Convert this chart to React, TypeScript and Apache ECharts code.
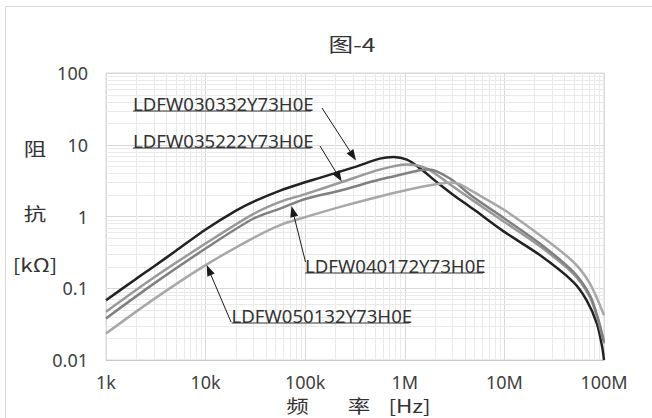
import { useEffect, useRef } from "react";
import * as echarts from "echarts";

// Impedance |Z| [kΩ] versus frequency [Hz] for four parts
const freq030332 = [1e3, 2e3, 3e3, 5e3, 1e4, 2e4, 3e4, 5.6e4, 1e5, 1.4e5, 3.3e5, 5.6e5, 7.7e5, 1.05e6, 1.42e6, 2.1e6, 3e6, 4.9e6, 1e7, 2.27e7, 4.9e7, 6.7e7, 8.5e7, 9.6e7, 1e8];
const imp030332 = [0.068, 0.135, 0.2, 0.33, 0.66, 1.2, 1.6, 2.3, 3.0, 3.45, 5.0, 6.4, 6.75, 6.2, 4.7, 3.0, 2.05, 1.26, 0.61, 0.29, 0.123, 0.068, 0.032, 0.015, 0.01];

const freq035222 = [1e3, 3e3, 1e4, 3e4, 5.6e4, 1e5, 2.3e5, 5.6e5, 1.05e6, 1.66e6, 2.63e6, 4.9e6, 1e7, 2.27e7, 4.9e7, 7.2e7, 8.7e7, 1e8];
const imp035222 = [0.047, 0.14, 0.42, 1.08, 1.6, 2.05, 3.0, 4.5, 5.3, 4.66, 3.03, 1.65, 0.84, 0.385, 0.16, 0.076, 0.036, 0.017];

const freq040172 = [1e3, 3e3, 1e4, 3e4, 5.6e4, 1e5, 2.3e5, 5.6e5, 1e6, 1.42e6, 1.75e6, 2.84e6, 4.9e6, 1e7, 2.27e7, 4.9e7, 7.2e7, 8.7e7, 1e8];
const imp040172 = [0.038, 0.115, 0.358, 0.93, 1.29, 1.75, 2.32, 3.27, 3.95, 4.41, 4.52, 3.38, 1.85, 0.94, 0.42, 0.17, 0.08, 0.038, 0.018];

const freq050132 = [1e3, 3e3, 1e4, 3e4, 5.6e4, 1e5, 2.6e5, 6e5, 1.22e6, 2e6, 2.9e6, 3.6e6, 4.5e6, 1e7, 2.27e7, 4.9e7, 7.2e7, 1e8];
const imp050132 = [0.0234, 0.07, 0.21, 0.5, 0.76, 0.98, 1.44, 1.95, 2.46, 2.8, 2.97, 2.8, 2.35, 1.23, 0.55, 0.234, 0.117, 0.042];

const partNames = ["LDFW030332Y73H0E", "LDFW035222Y73H0E", "LDFW040172Y73H0E", "LDFW050132Y73H0E"];

const xTickValues = [1e3, 1e4, 1e5, 1e6, 1e7, 1e8];
const xTickLabels = ["1k", "10k", "100k", "1M", "10M", "100M"];
const yTickValues = [0.01, 0.1, 1, 10, 100];
const yTickLabels = ["0.01", "0.1", "1", "10", "100"];

const LATIN = "'Noto Sans', sans-serif";
const CJK = "'Noto Sans CJK SC', 'Noto Sans CJK JP', sans-serif";

const zip = (xs: number[], ys: number[]) => xs.map((x, i) => [x, ys[i]]);

const labelFor = (ticks: number[], names: string[]) => (v: number) => {
  const i = ticks.findIndex((t) => Math.abs(Math.log10(t) - Math.log10(v)) < 1e-6);
  return i >= 0 ? names[i] : "";
};

function arrow(x1: number, y1: number, x2: number, y2: number) {
  const dx = x2 - x1;
  const dy = y2 - y1;
  const len = Math.hypot(dx, dy);
  const ux = dx / len;
  const uy = dy / len;
  const headLen = 11;
  const headHalf = 4;
  const bx = x2 - ux * headLen;
  const by = y2 - uy * headLen;
  return [
    { type: "line", z: 20, silent: true, shape: { x1, y1, x2: bx, y2: by }, style: { stroke: "#1a1a1a", lineWidth: 1 } },
    {
      type: "polygon",
      z: 20,
      silent: true,
      shape: { points: [[x2, y2], [bx - uy * headHalf, by + ux * headHalf], [bx + uy * headHalf, by - ux * headHalf]] },
      style: { fill: "#1a1a1a" },
    },
  ];
}

// callout text (left x, middle y, underline width), arrow start and arrow tip
const callouts = [
  { text: partNames[0], x: 133, y: 103.5, w: 178, ax: 322, ay: 108, tx: 356, ty: 160.5 },
  { text: partNames[1], x: 133, y: 140.5, w: 178, ax: 320, ay: 146, tx: 341.7, ty: 181.5 },
  { text: partNames[2], x: 305, y: 265.5, w: 178, ax: 305.5, ay: 262, tx: 291.5, ty: 206 },
  { text: partNames[3], x: 231.5, y: 315.5, w: 178, ax: 231, ay: 322, tx: 206.7, ty: 265 },
];

export default function App() {
  const ref = useRef<HTMLDivElement>(null);

  useEffect(() => {
    if (!ref.current) return;
    const chart = echarts.init(ref.current, undefined, { renderer: "svg" });

    const seriesDefs = [
      { name: partNames[0], data: zip(freq030332, imp030332), color: "#222222" },
      { name: partNames[1], data: zip(freq035222, imp035222), color: "#999999" },
      { name: partNames[2], data: zip(freq040172, imp040172), color: "#808080" },
      { name: partNames[3], data: zip(freq050132, imp050132), color: "#a8a8a8" },
    ];

    chart.setOption({
      animation: false,
      backgroundColor: "#ffffff",
      grid: { left: 106, right: 48, top: 73, bottom: 58, show: true, borderColor: "#d9d9d9", borderWidth: 1 },
      xAxis: {
        type: "log",
        logBase: 10,
        min: 1e3,
        max: 1e8,
        axisLine: { show: true, lineStyle: { color: "#c8c8c8", width: 1 } },
        axisTick: { show: false },
        splitLine: { show: true, lineStyle: { color: "#d9d9d9", width: 1 } },
        axisLabel: {
          margin: 13,
          color: "#404040",
          fontFamily: LATIN,
          fontSize: 18,
          formatter: labelFor(xTickValues, xTickLabels),
        },
      },
      yAxis: {
        type: "log",
        logBase: 10,
        min: 0.01,
        max: 100,
        axisLine: { show: false },
        axisTick: { show: false },
        splitLine: { show: true, lineStyle: { color: "#d9d9d9", width: 1 } },
        axisLabel: {
          margin: 18,
          color: "#404040",
          fontFamily: LATIN,
          fontSize: 18,
          formatter: labelFor(yTickValues, yTickLabels),
        },
      },
      series: seriesDefs.map((s) => ({
        type: "line",
        name: s.name,
        data: s.data,
        z: 5,
        smooth: 0.3,
        showSymbol: false,
        symbol: "none",
        clip: true,
        lineStyle: { color: s.color, width: 2.5 },
        itemStyle: { color: s.color },
      })),
    });

    // minor log grid lines (2..9 within each decade)
    const px = (v: number) => chart.convertToPixel({ xAxisIndex: 0 }, v) as number;
    const py = (v: number) => chart.convertToPixel({ yAxisIndex: 0 }, v) as number;
    const left = px(1e3);
    const right = px(1e8);
    const top = py(100);
    const bottom = py(0.01);
    const minor: any[] = [];
    for (let d = 3; d < 8; d++) {
      for (let m = 2; m <= 9; m++) {
        const x = Math.round(px(m * Math.pow(10, d))) + 0.5;
        minor.push({ type: "line", z: 1, silent: true, shape: { x1: x, y1: top, x2: x, y2: bottom }, style: { stroke: "#eaeaea", lineWidth: 1 } });
      }
    }
    for (let d = -2; d < 2; d++) {
      for (let m = 2; m <= 9; m++) {
        const y = Math.round(py(m * Math.pow(10, d))) + 0.5;
        minor.push({ type: "line", z: 1, silent: true, shape: { x1: left, y1: y, x2: right, y2: y }, style: { stroke: "#eaeaea", lineWidth: 1 } });
      }
    }

    const notes: any[] = [];
    callouts.forEach((c) => {
      notes.push({
        type: "text",
        z: 20,
        silent: true,
        x: c.x,
        y: c.y,
        style: { text: c.text, fill: "#333333", font: `18.6px ${LATIN}`, textAlign: "left", textVerticalAlign: "middle" },
      });
      notes.push({ type: "line", z: 20, silent: true, shape: { x1: c.x, y1: c.y + 7.5, x2: c.x + c.w, y2: c.y + 7.5 }, style: { stroke: "#333333", lineWidth: 1 } });
      notes.push(...arrow(c.ax, c.ay, c.tx, c.ty));
    });

    const cjkText = (text: string, x: number, y: number, size: number, sx: number) => ({
      type: "text",
      z: 20,
      silent: true,
      x,
      y,
      scaleX: sx,
      style: { text, fill: "#333333", font: `${size}px ${CJK}`, textAlign: "center", textVerticalAlign: "middle" },
    });

    chart.setOption({
      graphic: {
        elements: [
          { type: "rect", z: 0, silent: true, shape: { x: 5.5, y: 6.5, width: 700, height: 500 }, style: { fill: "none", stroke: "#d9d9d9", lineWidth: 1 } },
          ...minor,
          ...notes,
          cjkText("图-4", 352, 43, 19, 1.3),
          cjkText("阻", 35, 148, 18, 1.25),
          cjkText("抗", 35, 213, 18, 1.25),
          cjkText("[kΩ]", 35, 264, 18, 1.25),
          cjkText("频", 297.5, 405, 18, 1.25),
          cjkText("率", 359, 405, 18, 1.25),
          cjkText("[Hz]", 409.5, 405, 18, 1.25),
        ],
      },
    });

    return () => chart.dispose();
  }, []);

  return <div ref={ref} style={{ position: "fixed", left: 0, top: 0, width: 652, height: 418, background: "#fff" }} />;
}
